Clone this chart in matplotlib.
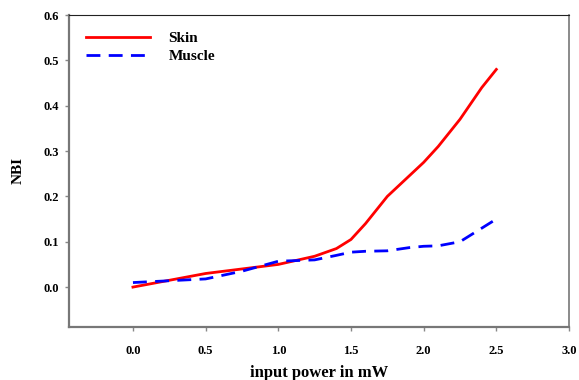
import numpy as np
import matplotlib.pyplot as plt

plt.rcParams['font.family'] = ['Liberation Serif', 'DejaVu Serif']
plt.rcParams['font.weight'] = 'bold'

# values
power = [0.0, 0.25, 0.5, 0.75, 1.0, 1.25, 1.4, 1.5, 1.6, 1.75, 1.9, 2.0, 2.1, 2.25, 2.4, 2.5]
skin = [0.0, 0.015, 0.03, 0.04, 0.05, 0.068, 0.085, 0.105, 0.14, 0.2, 0.245, 0.275, 0.31, 0.37, 0.44, 0.48]
muscle = [0.01, 0.014, 0.018, 0.035, 0.057, 0.06, 0.07, 0.077, 0.079, 0.08, 0.087, 0.09, 0.091, 0.1, 0.13, 0.15]

xticks = [0.0, 0.5, 1.0, 1.5, 2.0, 2.5, 3.0]
yticks = [0.0, 0.1, 0.2, 0.3, 0.4, 0.5, 0.6]

fig = plt.figure(figsize=(5.79, 3.8), dpi=100)
ax = fig.add_axes([69/579, 1-327/380, 500/579, 312/380])

ax.plot(power, skin, color='#ff0000', lw=2, label='Skin')
ax.plot(power, muscle, color='#0000ff', lw=2, ls=(0, (5, 3)), label='Muscle')

ax.set_xlim(-0.44, 3.0)
ax.set_ylim(-0.088, 0.6)
ax.set_xticks(xticks)
ax.set_yticks(yticks)
ax.set_xticklabels(['%.1f' % v for v in xticks], fontsize=9, fontweight='bold')
ax.set_yticklabels(['%.1f' % v for v in yticks], fontsize=9, fontweight='bold')
ax.tick_params(axis='both', direction='out', length=3, width=1, color='#888888', pad=10)
ax.tick_params(axis='y', pad=4)

for s in ['left', 'bottom']:
    ax.spines[s].set_color('#777777')
    ax.spines[s].set_linewidth(1.6)
ax.spines['top'].set_color('#222222')
ax.spines['right'].set_color('#777777')
ax.spines['right'].set_linewidth(1.2)

ax.set_xlabel('input power in mW', fontsize=12, fontweight='bold', labelpad=6)
ax.set_ylabel('NBI', fontsize=11, fontweight='bold', labelpad=14)

leg = ax.legend(loc='upper left', frameon=False, fontsize=11, handlelength=4.2,
                borderaxespad=0.7, labelspacing=0.25, handletextpad=1.2)
for t in leg.get_texts():
    t.set_fontweight('bold')

fig.savefig('out.png', dpi=100)
